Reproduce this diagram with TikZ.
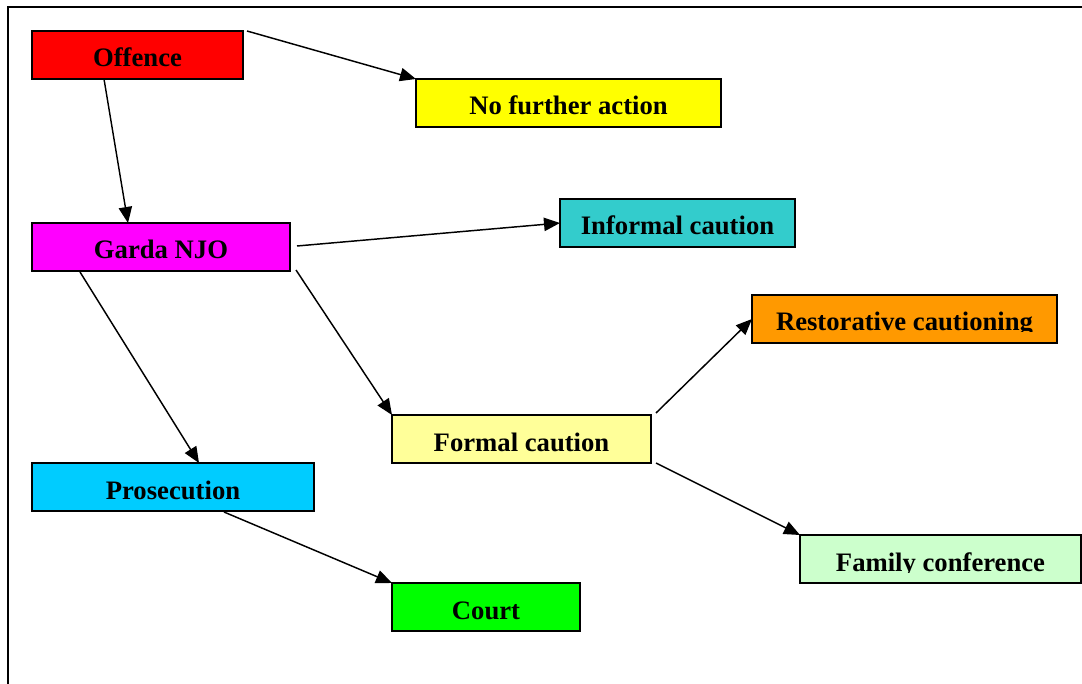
\documentclass[tikz,border=0pt]{standalone}
\usepackage{fontspec}
\setmainfont{Liberation Serif}
\usetikzlibrary{arrows.meta,calc}
\definecolor{cRed}{HTML}{FF0000}
\definecolor{cYellow}{HTML}{FFFF00}
\definecolor{cMagenta}{HTML}{FF00FF}
\definecolor{cTeal}{HTML}{33CCCC}
\definecolor{cOrange}{HTML}{FF9900}
\definecolor{cLightYellow}{HTML}{FFFF99}
\definecolor{cCyan}{HTML}{00CCFF}
\definecolor{cLightGreen}{HTML}{CCFFCC}
\definecolor{cGreen}{HTML}{00FF00}
\tikzset{
  flowbox/.style={draw=black, line width=1.1pt, rectangle, inner sep=0pt, outer sep=0pt},
  flowtext/.style={font=\bfseries\fontsize{20}{24}\selectfont, inner sep=0pt, text=black},
  arr/.style={line width=1.1pt, -{Triangle[length=12pt,width=10pt]}},
  frame/.style={line width=1.6pt}
}
\newcommand\flowbox[7]{%
  \node[flowbox, fill=#6, minimum width={(#4-#2)*0.75pt}, minimum height={(#5-#3)*0.75pt}, anchor=north west] (#1) at (#2,#3) {};
  \begin{scope}
    \clip (#2,#3) rectangle (#4,#5-11);
    \node[flowtext, anchor=base] (#1-text) at ({(#2+#4)/2},{#5-12}) {#7};
  \end{scope}}
\begin{document}
\begin{tikzpicture}[x=0.75pt,y=-0.75pt]
\useasboundingbox (0,0) rectangle (1082,684);
\coordinate (fa) at (8,700);
\coordinate (fb) at (8,7);
\coordinate (fc) at (1100,7);
\draw[frame] (fa) -- (fb) -- (fc);
\flowbox{offence}{32}{31}{243}{79}{cRed}{Offence}
\flowbox{nfa}{416}{79}{721}{127}{cYellow}{No further action}
\flowbox{garda}{32}{223}{290}{271}{cMagenta}{Garda NJO}
\flowbox{informal}{560}{199}{795}{247}{cTeal}{Informal caution}
\flowbox{restor}{752}{295}{1057}{343}{cOrange}{Restorative cautioning}
\flowbox{formal}{392}{415}{651}{463}{cLightYellow}{Formal caution}
\flowbox{prosec}{32}{463}{314}{511}{cCyan}{Prosecution}
\flowbox{family}{800}{535}{1081}{583}{cLightGreen}{Family conference}
\flowbox{court}{392}{583}{580}{631}{cGreen}{Court}
\draw[arr] ($(offence.north east)+(4,0)$) -- (nfa.north west);
\draw[arr] ($(offence.south west)+(72,0)$) -- ($(garda.north west)+(96,0)$);
\draw[arr] ($(garda.east)+(7,-1)$) -- (informal.west);
\draw[arr] ($(garda.south east)+(6,-1)$) -- (formal.north west);
\draw[arr] ($(garda.south west)+(48,1)$) -- ($(prosec.north west)+(167,0)$);
\draw[arr] ($(formal.north east)+(5,-2)$) -- (restor.west);
\draw[arr] ($(formal.south east)+(5,0)$) -- (family.north west);
\draw[arr] ($(prosec.south west)+(192,1)$) -- (court.north west);
\end{tikzpicture}
\end{document}
